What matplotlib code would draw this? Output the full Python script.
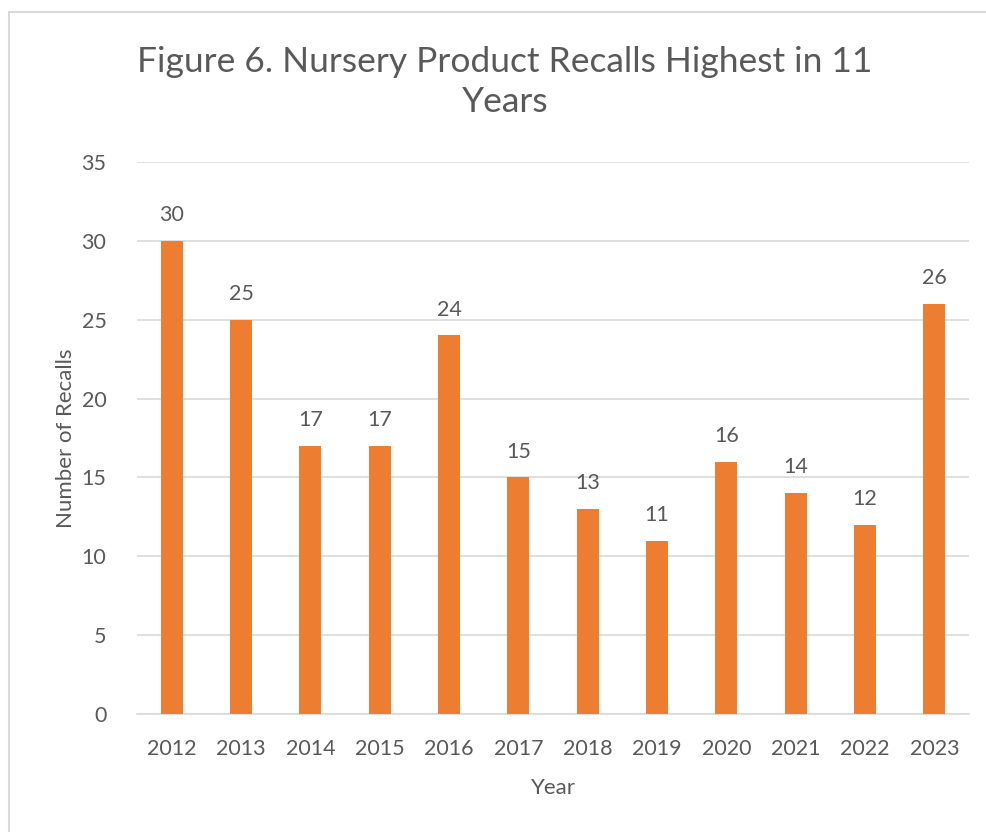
import matplotlib
matplotlib.use("Agg")
import matplotlib.pyplot as plt
from matplotlib.patches import Rectangle

years = ["2012", "2013", "2014", "2015", "2016", "2017",
         "2018", "2019", "2020", "2021", "2022", "2023"]
recalls = [30, 25, 17, 17, 24, 15, 13, 11, 16, 14, 12, 26]
y_ticks = [0, 5, 10, 15, 20, 25, 30, 35]

plt.rcParams['font.family'] = ['Lato', 'DejaVu Sans']
text_color = '#595959'
bar_color = '#ED7D31'

fig = plt.figure(figsize=(9.87, 8.32), dpi=100)
# outer chart border
fig.patches.append(Rectangle((9 / 987, -0.02), 1.05, 1 - 12 / 832 + 0.02,
                             transform=fig.transFigure, fill=False,
                             edgecolor='#d9d9d9', linewidth=1.5))

ax = fig.add_axes([137 / 987, 1 - 714 / 832, (969 - 137) / 987, (714 - 162) / 832])
x = list(range(len(years)))
bars = ax.bar(x, recalls, width=0.32, color=bar_color, zorder=3)
for xi, v in zip(x, recalls):
    ax.text(xi, v + 1.0, str(v), ha='center', va='bottom',
            fontsize=15.5, color=text_color)

ax.set_xlim(-0.5, len(years) - 0.5)
ax.set_ylim(0, 35)
ax.set_yticks(y_ticks)
ax.set_xticks(x)
ax.set_xticklabels(years)
ax.tick_params(axis='both', length=0, labelsize=15.5, colors=text_color)
ax.tick_params(axis='y', pad=22)
ax.tick_params(axis='x', pad=18)
ax.grid(axis='y', color='#d9d9d9', linewidth=1.2, zorder=0)
for s in ['top', 'right', 'left']:
    ax.spines[s].set_visible(False)
ax.spines['bottom'].set_color('#d9d9d9')
ax.spines['bottom'].set_linewidth(1.2)

ax.set_xlabel("Year", fontsize=16, color=text_color, labelpad=14)
ax.set_ylabel("Number of Recalls", fontsize=16, color=text_color, labelpad=4)

fig.text(505 / 987, 1 - 82 / 832, "Figure 6. Nursery Product Recalls Highest in 11\nYears",
         ha='center', va='center', fontsize=25.5, color=text_color, linespacing=1.3)

fig.savefig("out.png", dpi=100, facecolor='white')
